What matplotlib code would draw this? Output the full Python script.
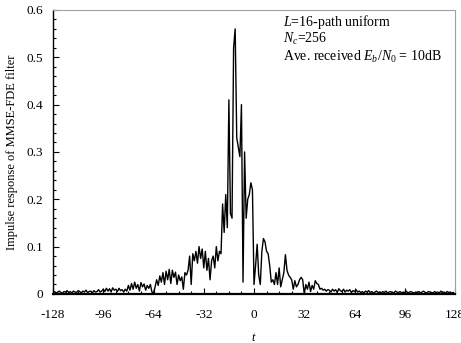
import numpy as np
import matplotlib
matplotlib.use("Agg")
import matplotlib.pyplot as plt
from matplotlib.ticker import MultipleLocator

plt.rcParams['font.family'] = ['Liberation Serif', 'DejaVu Serif']
plt.rcParams['mathtext.fontset'] = 'custom'
plt.rcParams['mathtext.rm'] = 'Liberation Serif'
plt.rcParams['mathtext.it'] = 'Liberation Serif:italic'
plt.rcParams['axes.unicode_minus'] = False

# impulse response samples, t = -128 .. 127
seg_a = [0.003, 0.005, 0.002, 0.004, 0.006, 0.003, 0.002, 0.005, 0.004, 0.007,
         0.003, 0.005, 0.002, 0.006, 0.004, 0.003, 0.007, 0.005, 0.002, 0.006,
         0.004, 0.008, 0.003, 0.005, 0.006, 0.002, 0.007, 0.004, 0.005, 0.009,
         0.004, 0.006]
seg_b = [0.010, 0.005, 0.012, 0.006, 0.011, 0.004, 0.013, 0.008, 0.010, 0.005,
         0.012, 0.007, 0.009, 0.004, 0.010, 0.006]
seg_c = [0.018, 0.008, 0.022, 0.010, 0.025, 0.012, 0.020, 0.006, 0.024, 0.015,
         0.021, 0.008, 0.018, 0.012, 0.020, 0.004]
seg_d = [0.002, 0.015, 0.030, 0.018, 0.038, 0.025, 0.045, 0.020, 0.048, 0.030,
         0.052, 0.022, 0.050, 0.035, 0.046, 0.020, 0.040, 0.028, 0.036, 0.010,
         0.045, 0.040]
seg_e = [0.050, 0.080, 0.020, 0.085, 0.070, 0.090, 0.065, 0.100, 0.075, 0.095,
         0.055, 0.090, 0.050, 0.075, 0.030, 0.070, 0.080, 0.055, 0.100, 0.070,
         0.090, 0.085]
seg_f = [0.190, 0.130, 0.210, 0.140, 0.410, 0.170, 0.160, 0.520, 0.560, 0.330,
         0.310, 0.290, 0.400, 0.025, 0.300, 0.160, 0.200, 0.210, 0.235, 0.220]
seg_g = [0.020, 0.060, 0.105, 0.040, 0.020, 0.090, 0.117, 0.110, 0.090, 0.085,
         0.060, 0.025, 0.030, 0.020, 0.045, 0.020, 0.055, 0.015, 0.030, 0.045,
         0.083, 0.050, 0.040, 0.035]
seg_h = [0.030, 0.010, 0.028, 0.015, 0.020, 0.030, 0.035, 0.030, 0.000, 0.020,
         0.010, 0.025, 0.005, 0.018, 0.010, 0.028, 0.022, 0.020, 0.010, 0.012,
         0.008, 0.010, 0.006, 0.009]
seg_i = [0.008, 0.004, 0.010, 0.006, 0.009, 0.003, 0.011, 0.007, 0.005, 0.010,
         0.004, 0.008, 0.006, 0.009, 0.003, 0.007]
seg_j = [0.005, 0.009, 0.004, 0.006, 0.003, 0.005, 0.002, 0.006, 0.004, 0.007,
         0.003, 0.005, 0.002, 0.004, 0.006, 0.003]
seg_k = [0.004, 0.002, 0.005, 0.003, 0.006, 0.002, 0.004, 0.005, 0.003, 0.002,
         0.006, 0.004, 0.003, 0.005, 0.002, 0.004, 0.003, 0.006, 0.002, 0.004,
         0.005, 0.003, 0.002, 0.004, 0.003, 0.005, 0.002, 0.004, 0.006, 0.003,
         0.002, 0.005, 0.004, 0.003, 0.002, 0.005, 0.003, 0.004, 0.002, 0.006,
         0.003, 0.004, 0.002, 0.005, 0.003, 0.004, 0.002, 0.003]

values = np.array(seg_a + seg_b + seg_c + seg_d + seg_e + seg_f + seg_g
                  + seg_h + seg_i + seg_j + seg_k)
t = np.arange(-128, -128 + len(values))

fig = plt.figure(figsize=(4.61, 3.43), dpi=100)
ax = fig.add_axes([0.115, 0.143, 0.872, 0.828])
ax.plot(t, values, color='black', lw=1.0)

ax.set_xlim(-128, 128)
ax.set_ylim(0, 0.6)
ax.xaxis.set_major_locator(MultipleLocator(32))
ax.xaxis.set_minor_locator(MultipleLocator(8))
ax.yaxis.set_major_locator(MultipleLocator(0.1))
ax.yaxis.set_minor_locator(MultipleLocator(0.02))
ax.yaxis.set_major_formatter(plt.FuncFormatter(lambda v, p: '0' if v == 0 else f'{v:.1f}'))
ax.tick_params(which='both', direction='in', top=False, right=False, labelsize=9.5)
ax.tick_params(which='major', length=4, width=0.8)
ax.tick_params(which='minor', length=2.5, width=0.8)
ax.tick_params(axis='x', pad=11)
ax.tick_params(axis='y', pad=7)

for s in ['top', 'right']:
    ax.spines[s].set_color('#a0a0a0')
ax.spines['left'].set_linewidth(1.0)
ax.spines['bottom'].set_linewidth(1.6)

ax.set_xlabel('$t$', fontsize=9, labelpad=8)
ax.set_ylabel('Impulse response of MMSE-FDE filter', fontsize=9, labelpad=6)

ax.text(0.572, 0.958, '$L$=16-path uniform', transform=ax.transAxes, fontsize=10, va='center')
ax.text(0.572, 0.898, '$N_c$=256', transform=ax.transAxes, fontsize=10, va='center')
ax.text(0.572, 0.835, 'Ave. received $E_b/N_0$ = 10dB', transform=ax.transAxes, fontsize=10, va='center')

fig.savefig('out.png', dpi=100)
